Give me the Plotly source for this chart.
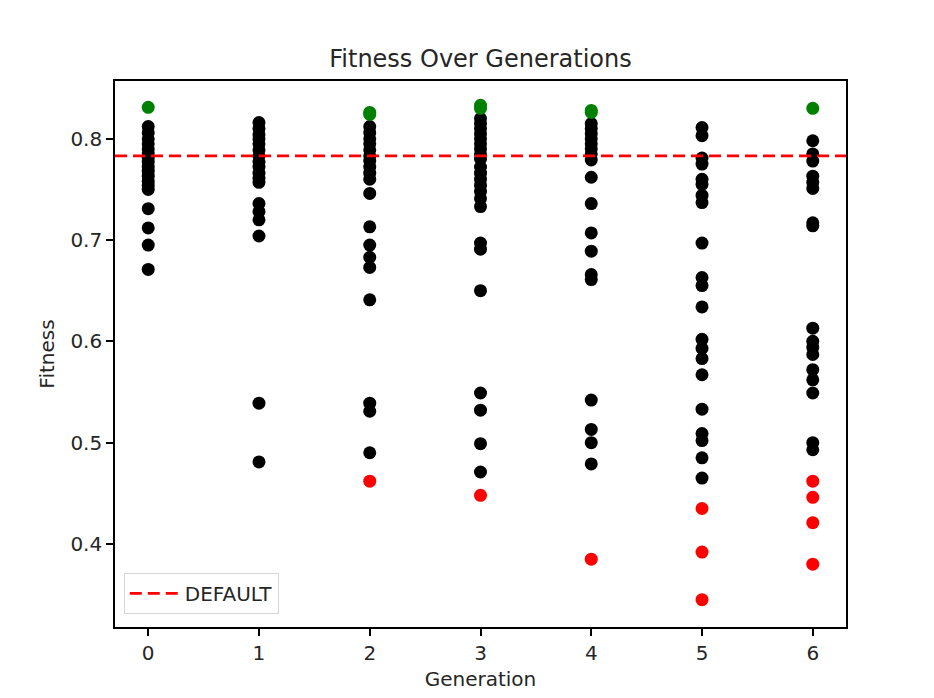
import plotly.graph_objects as go

# fitness values read per generation
gen_fitness = {
    0: [0.812, 0.806, 0.800, 0.795, 0.790, 0.786, 0.781, 0.777, 0.772, 0.768, 0.763,
        0.758, 0.754, 0.750, 0.731, 0.712, 0.695, 0.671],
    1: [0.816, 0.810, 0.804, 0.800, 0.795, 0.789, 0.783, 0.777, 0.772, 0.766, 0.761,
        0.757, 0.736, 0.728, 0.720, 0.704, 0.539, 0.481],
    2: [0.812, 0.806, 0.800, 0.795, 0.789, 0.783, 0.778, 0.772, 0.766, 0.760, 0.746,
        0.713, 0.695, 0.683, 0.673, 0.641, 0.539, 0.531, 0.490],
    3: [0.820, 0.815, 0.810, 0.805, 0.800, 0.795, 0.790, 0.785, 0.780, 0.772, 0.766,
        0.760, 0.754, 0.748, 0.741, 0.733, 0.697, 0.691, 0.650, 0.549, 0.532, 0.499, 0.471],
    4: [0.815, 0.810, 0.805, 0.800, 0.795, 0.790, 0.785, 0.779, 0.762, 0.736, 0.707,
        0.689, 0.666, 0.661, 0.542, 0.513, 0.500, 0.479],
    5: [0.811, 0.803, 0.781, 0.775, 0.760, 0.755, 0.744, 0.737, 0.697, 0.663, 0.655,
        0.634, 0.602, 0.593, 0.583, 0.567, 0.533, 0.509, 0.502, 0.485, 0.465],
    6: [0.798, 0.785, 0.778, 0.763, 0.757, 0.751, 0.717, 0.714, 0.613, 0.600, 0.594,
        0.587, 0.572, 0.562, 0.549, 0.500, 0.493],
}
best_gen = [0, 2, 2, 3, 3, 4, 4, 6]
best_fit = [0.831, 0.826, 0.824, 0.833, 0.830, 0.828, 0.826, 0.830]
worst_gen = [2, 3, 4, 5, 5, 5, 6, 6, 6, 6]
worst_fit = [0.462, 0.448, 0.385, 0.435, 0.392, 0.345, 0.462, 0.446, 0.421, 0.380]
DEFAULT = 0.783

font = "DejaVu Sans, Liberation Sans, sans-serif"
ink = '#262626'

xs, ys = [], []
for g, vals in gen_fitness.items():
    xs += [g] * len(vals)
    ys += vals

fig = go.Figure()
fig.add_trace(go.Scatter(x=xs, y=ys, mode='markers', marker=dict(color='black', size=13),
                         showlegend=False))
fig.add_trace(go.Scatter(x=best_gen, y=best_fit, mode='markers', marker=dict(color='green', size=13),
                         showlegend=False))
fig.add_trace(go.Scatter(x=worst_gen, y=worst_fit, mode='markers', marker=dict(color='red', size=13),
                         showlegend=False))
fig.add_hline(y=DEFAULT, line=dict(color='red', width=2.8, dash='12px,6px'),
              showlegend=True, name='DEFAULT')

fig.update_layout(
    width=934, height=698,
    margin=dict(l=107, r=96, t=73, b=79),
    plot_bgcolor='white', paper_bgcolor='white',
    font=dict(family=font, size=20, color=ink),
    title=dict(text='Fitness Over Generations', xref='paper', x=0.5, xanchor='center',
               y=0.927, yanchor='middle', font=dict(size=24, color=ink)),
    legend=dict(x=0.012, y=0.024, xanchor='left', yanchor='bottom', bgcolor='rgba(255,255,255,0.8)',
                bordercolor='#d6d6d6', borderwidth=1, itemwidth=50, font=dict(size=20, color=ink)),
)
fig.update_xaxes(range=[-0.3, 6.3], tickvals=list(gen_fitness.keys()), ticks='outside', ticklen=7,
                 tickwidth=1.6, tickcolor='black', tickfont=dict(size=20),
                 showgrid=False, zeroline=False, showline=True, linecolor='black', linewidth=1.6,
                 mirror=True, title=dict(text='Generation', standoff=8, font=dict(size=20)))
fig.update_yaxes(range=[0.318, 0.857], tickvals=[0.4, 0.5, 0.6, 0.7, 0.8], tickformat='.1f',
                 ticks='outside', ticklen=7, tickwidth=1.6, tickcolor='black', tickfont=dict(size=20),
                 showgrid=False, zeroline=False, showline=True,
                 linecolor='black', linewidth=1.6, mirror=True,
                 title=dict(text='Fitness', standoff=10, font=dict(size=20)))

fig.write_html("out.html")
